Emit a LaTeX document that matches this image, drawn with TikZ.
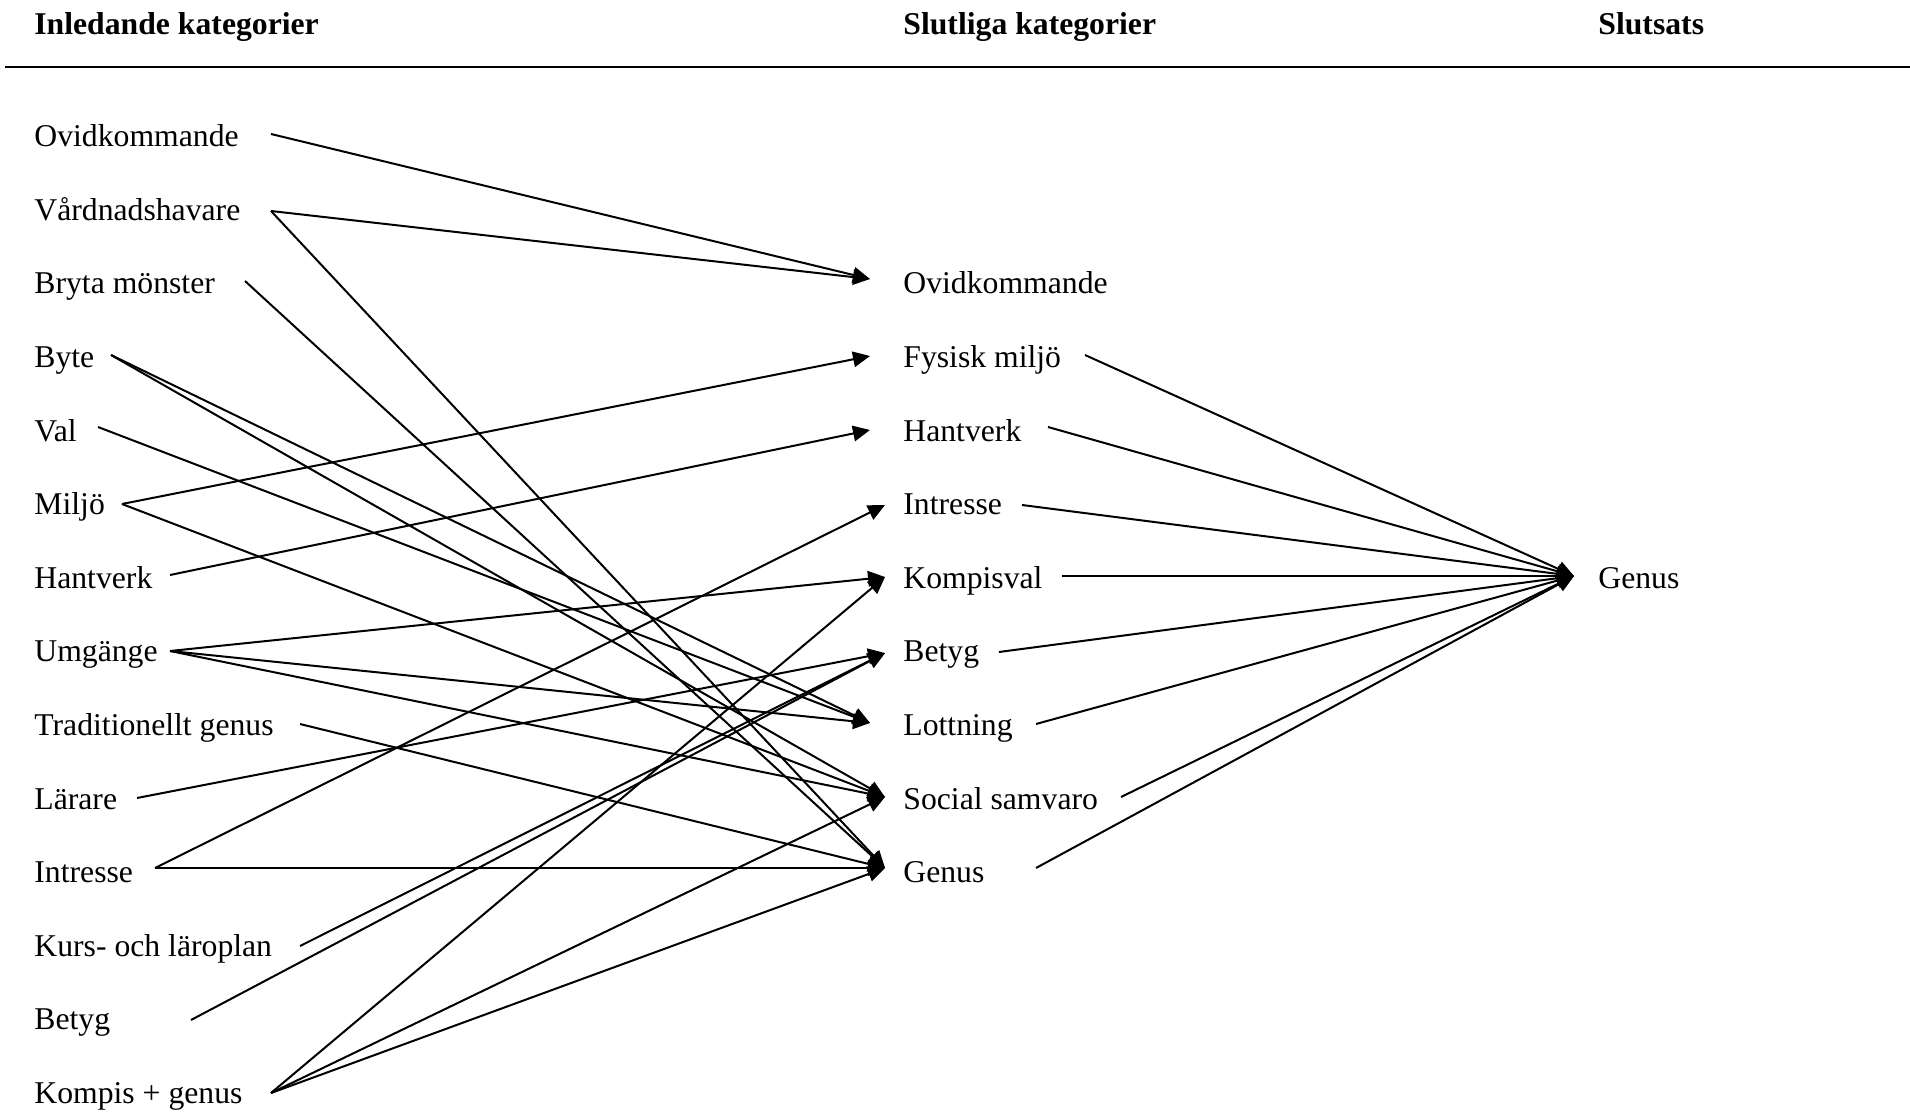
\documentclass[tikz,border=0pt]{standalone}
\usepackage{fontspec}
\setmainfont{Liberation Serif}
\usetikzlibrary{arrows.meta}
\begin{document}
\begin{tikzpicture}[x=0.5pt,y=-0.5pt,
  lbl/.style={anchor=base west, inner sep=0pt, font=\fontsize{15.85}{19}\selectfont},
  hdr/.style={anchor=base west, inner sep=0pt, font=\fontsize{15.85}{19}\selectfont\bfseries},
  conn/.style={line width=1pt, -{Triangle[length=8.5pt,width=7.8pt]}},
  rulest/.style={line width=1.3pt}]
\useasboundingbox (0,0) rectangle (1910,1112);

% headers
\node[hdr] (h1) at (34,35) {Inledande kategorier};
\node[hdr] (h2) at (903,35) {Slutliga kategorier};
\node[hdr] (h3) at (1598,35) {Slutsats};
\coordinate (ruleA) at (5,67);
\coordinate (ruleB) at (1910,67);
\draw[rulest] (ruleA) -- (ruleB);

% left column
\node[lbl] (L1)  at (34,146.7)  {Ovidkommande};
\node[lbl] (L2)  at (34,220.3)  {Vårdnadshavare};
\node[lbl] (L3)  at (34,293.9)  {Bryta mönster};
\node[lbl] (L4)  at (34,367.5)  {Byte};
\node[lbl] (L5)  at (34,441.1)  {Val};
\node[lbl] (L6)  at (34,514.7)  {Miljö};
\node[lbl] (L7)  at (34,588.3)  {Hantverk};
\node[lbl] (L8)  at (34,661.9)  {Umgänge};
\node[lbl] (L9)  at (34,735.5)  {Traditionellt genus};
\node[lbl] (L10) at (34,809.1)  {Lärare};
\node[lbl] (L11) at (34,882.7)  {Intresse};
\node[lbl] (L12) at (34,956.3)  {Kurs- och läroplan};
\node[lbl] (L13) at (34,1029.9) {Betyg};
\node[lbl] (L14) at (34,1103.5) {Kompis + genus};

% middle column
\node[lbl] (M1) at (903,293.9) {Ovidkommande};
\node[lbl] (M2) at (903,367.5) {Fysisk miljö};
\node[lbl] (M3) at (903,441.1) {Hantverk};
\node[lbl] (M4) at (903,514.7) {Intresse};
\node[lbl] (M5) at (903,588.3) {Kompisval};
\node[lbl] (M6) at (903,661.9) {Betyg};
\node[lbl] (M7) at (903,735.5) {Lottning};
\node[lbl] (M8) at (903,809.1) {Social samvaro};
\node[lbl] (M9) at (903,882.7) {Genus};

% right column
\node[lbl] (R1) at (1598,588.3) {Genus};

% connector end points beside the labels
\coordinate (L1o)  at (271,134);
\coordinate (L2o)  at (271,211);
\coordinate (L3o)  at (245,281);
\coordinate (L4o)  at (111,355);
\coordinate (L5o)  at (98,427);
\coordinate (L6o)  at (122,504);
\coordinate (L7o)  at (170,575);
\coordinate (L8o)  at (170,651);
\coordinate (L9o)  at (300,724);
\coordinate (L10o) at (137,798);
\coordinate (L11o) at (155,868);
\coordinate (L12o) at (300,946);
\coordinate (L13o) at (191,1020);
\coordinate (L14o) at (271,1093);

\coordinate (M1i) at (870,279);
\coordinate (M2i) at (870,356);
\coordinate (M3i) at (870,430);
\coordinate (M4i) at (885,505);
\coordinate (M5i) at (885,577);
\coordinate (M6i) at (885,653);
\coordinate (M7i) at (870,723);
\coordinate (M8i) at (885,797);
\coordinate (M9i) at (885,868);

\coordinate (M2o) at (1085,355);
\coordinate (M3o) at (1048,427);
\coordinate (M4o) at (1022,505);
\coordinate (M5o) at (1062,576);
\coordinate (M6o) at (999,652);
\coordinate (M7o) at (1036,724);
\coordinate (M8o) at (1121,797);
\coordinate (M9o) at (1036,868);

\coordinate (R1i) at (1574,576);

% left -> middle
\draw[conn] (L1o) -- (M1i);
\draw[conn] (L2o) -- (M1i);
\draw[conn] (L2o) -- (M9i);
\draw[conn] (L3o) -- (M9i);
\draw[conn] (L4o) -- (M7i);
\draw[conn] (L4o) -- (M8i);
\draw[conn] (L5o) -- (M7i);
\draw[conn] (L6o) -- (M2i);
\draw[conn] (L6o) -- (M8i);
\draw[conn] (L7o) -- (M3i);
\draw[conn] (L8o) -- (M5i);
\draw[conn] (L8o) -- (M7i);
\draw[conn] (L8o) -- (M8i);
\draw[conn] (L9o) -- (M9i);
\draw[conn] (L10o) -- (M6i);
\draw[conn] (L11o) -- (M4i);
\draw[conn] (L11o) -- (M9i);
\draw[conn] (L12o) -- (M6i);
\draw[conn] (L13o) -- (M6i);
\draw[conn] (L14o) -- (M5i);
\draw[conn] (L14o) -- (M8i);
\draw[conn] (L14o) -- (M9i);

% middle -> right
\draw[conn] (M2o) -- (R1i);
\draw[conn] (M3o) -- (R1i);
\draw[conn] (M4o) -- (R1i);
\draw[conn] (M5o) -- (R1i);
\draw[conn] (M6o) -- (R1i);
\draw[conn] (M7o) -- (R1i);
\draw[conn] (M8o) -- (R1i);
\draw[conn] (M9o) -- (R1i);
\end{tikzpicture}
\end{document}
